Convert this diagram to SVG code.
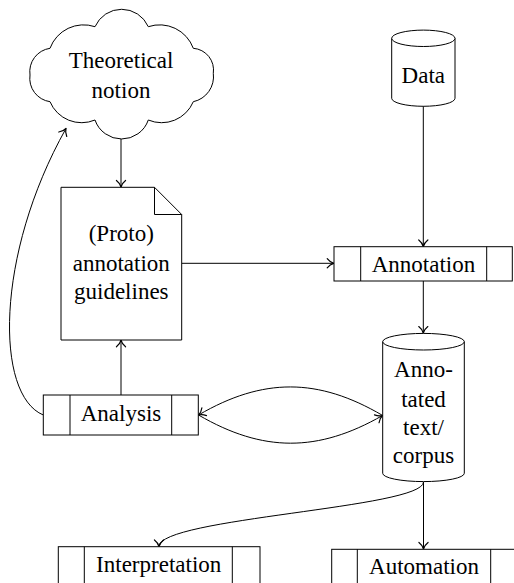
<svg xmlns="http://www.w3.org/2000/svg" width="514" height="583" viewBox="0 0 514 583">
<style>
  .shape { fill: #fff; stroke: #000; stroke-width: 1; }
  .line { fill: none; stroke: #000; stroke-width: 1; }
  .edge { fill: none; stroke: #000; stroke-width: 1; marker-end: url(#arr); }
  text { font-family: "Liberation Serif", "DejaVu Serif", serif; font-size: 23px; fill: #000; text-anchor: middle; }
</style>
<defs>
  <marker id="arr" markerUnits="userSpaceOnUse" markerWidth="12" markerHeight="12" viewBox="-7 -5 8 10" refX="0" refY="0" orient="auto" overflow="visible">
    <path d="M -5.5,-3.8 C -3.5,-1.2 -1.2,-0.3 0,0 C -1.2,0.3 -3.5,1.2 -5.5,3.8" fill="none" stroke="#000" stroke-width="1" stroke-linecap="round" stroke-linejoin="round"/>
  </marker>
</defs>

<g id="connectors">
  <path class="edge" d="M121,139 V187"/>
  <path class="edge" d="M423.3,106 V246.5"/>
  <path class="edge" d="M181.7,263.3 H333.8"/>
  <path class="edge" d="M423.3,281 V333.2"/>
  <path class="edge" d="M121,395 V340.2"/>
  <path class="edge" d="M43.3,415 C -5,395 -5,255 66,128.5"/>
  <path class="edge" d="M382.7,415.5 C 318,377.5 263,377.5 198.5,415"/>
  <path class="edge" d="M198.5,415 C 263,452.5 318,452.5 382.5,415.5"/>
  <path class="edge" d="M423.5,482 V549"/>
  <path class="edge" d="M423.5,482 C 423.5,508 159,518 159,546.5"/>
</g>

<g id="theory">
  <path class="shape" d="M30,75 A23.6,23.6 0 0 1 50,48.3 A35.8,35.8 0 0 1 95,26.7 A29.1,29.1 0 0 1 148.3,26.7 A35.8,35.8 0 0 1 193.3,48.3 A21.8,21.8 0 0 1 213.3,73.3 A25.6,25.6 0 0 1 193.3,101.7 A34.3,34.3 0 0 1 148.3,120 A28.2,28.2 0 0 1 95,120 A34.3,34.3 0 0 1 50,101.7 A23.6,23.6 0 0 1 30,75 Z"/>
  <text x="121" y="68.3">Theoretical</text>
  <text x="121" y="97.7">notion</text>
</g>

<g id="data">
  <path class="shape" d="M391.7,38.3 V98.3 A31.65,8 0 0 0 455,98.3 V38.3"/>
  <ellipse class="shape" cx="423.35" cy="38.3" rx="31.65" ry="8.2"/>
  <text x="423.3" y="82.7">Data</text>
</g>

<g id="guidelines">
  <path class="shape" d="M61,187.3 H154.5 L181.7,214.5 V340 H61 Z"/>
  <path class="line" d="M154.5,187.3 V214.5 H181.7"/>
  <text x="121.3" y="241">(Proto)</text>
  <text x="121.3" y="270.6">annotation</text>
  <text x="121.3" y="299.3">guidelines</text>
</g>

<g id="annotation">
  <rect class="shape" x="334" y="246.7" width="178.3" height="34.3"/>
  <path class="line" d="M360.7,246.7 V281 M486.7,246.7 V281"/>
  <text x="423.5" y="271.7">Annotation</text>
</g>

<g id="corpus">
  <path class="shape" d="M382.7,341.7 V473.3 A40.8,8.3 0 0 0 464.3,473.3 V341.7"/>
  <ellipse class="shape" cx="423.5" cy="341.7" rx="40.8" ry="8.3"/>
  <text x="423.5" y="376.7">Anno-</text>
  <text x="423.5" y="406.5">tated</text>
  <text x="423.5" y="435">text/</text>
  <text x="423.5" y="463.3">corpus</text>
</g>

<g id="analysis">
  <rect class="shape" x="43.3" y="395" width="155" height="40"/>
  <path class="line" d="M70,395 V435 M171.7,395 V435"/>
  <text x="121" y="420.7">Analysis</text>
</g>

<g id="interpretation">
  <rect class="shape" x="58.3" y="546.7" width="201.7" height="50"/>
  <path class="line" d="M84.3,546.7 V596.7 M232.3,546.7 V596.7"/>
  <text x="158.7" y="571.7">Interpretation</text>
</g>

<g id="automation">
  <rect class="shape" x="331.7" y="549.3" width="184.6" height="50"/>
  <path class="line" d="M357.3,549.3 V599.3 M490.7,549.3 V599.3"/>
  <text x="424" y="574.3">Automation</text>
</g>
</svg>
